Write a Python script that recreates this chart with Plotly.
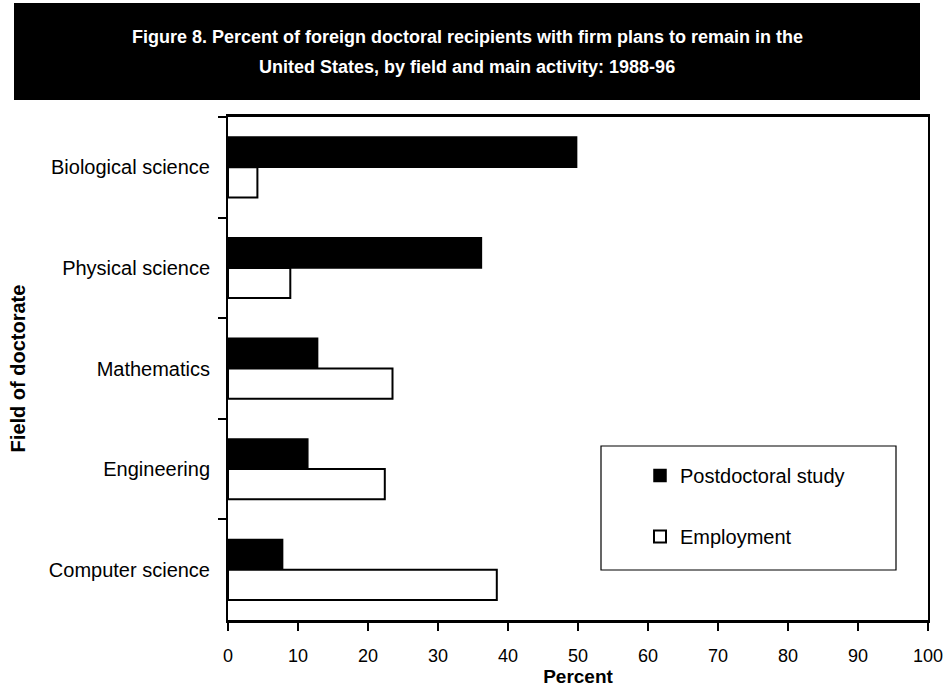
import plotly.graph_objects as go

categories = ["Biological science", "Physical science", "Mathematics", "Engineering", "Computer science"]
postdoc = [49.8, 36.2, 12.8, 11.4, 7.8]
employment = [4.2, 8.9, 23.5, 22.4, 38.4]
x_ticks = [0, 10, 20, 30, 40, 50, 60, 70, 80, 90, 100]
title_lines = [
    "Figure 8. Percent of foreign doctoral recipients with firm plans to remain in the",
    "United States, by field and main activity: 1988-96",
]

FONT = "Liberation Sans, Arial, sans-serif"

fig = go.Figure()
fig.add_trace(go.Bar(
    y=categories, x=postdoc, orientation="h", name="Postdoctoral study",
    marker=dict(color="black", line=dict(color="black", width=1.5)),
    legendgroup="a",
))
fig.add_trace(go.Bar(
    y=categories, x=employment, orientation="h", name="Employment",
    marker=dict(color="white", line=dict(color="black", width=2)),
    legendgroup="b",
))

L, R, T, B = 228, 19, 117, 71
W, H = 947, 691
pw, ph = W - L - R, H - T - B

def px_x(p):
    return (p - L) / pw

def px_y(p):
    return (H - B - p) / ph

annotations = []
for line, yy in zip(title_lines, [37, 67]):
    annotations.append(dict(
        xref="paper", yref="paper", x=px_x(467), y=px_y(yy),
        xanchor="center", yanchor="middle", showarrow=False,
        text="<b>" + line + "</b>",
        font=dict(family=FONT, size=18, color="white"),
    ))

fig.update_layout(
    width=W, height=H,
    margin=dict(l=L, r=R, t=T, b=B, autoexpand=False),
    plot_bgcolor="white", paper_bgcolor="white",
    barmode="group", bargap=0.4, bargroupgap=0.0,
    font=dict(family=FONT, size=18, color="black"),
    showlegend=True,
    legend=dict(
        x=px_x(640), y=px_y(456), xanchor="left", yanchor="top",
        bgcolor="rgba(0,0,0,0)", borderwidth=0,
        font=dict(family=FONT, size=20, color="black"),
        tracegroupgap=32, itemwidth=30,
    ),
    xaxis=dict(
        range=[0, 100], tickvals=x_ticks, ticktext=[str(v) for v in x_ticks],
        ticks="outside", ticklen=8, tickwidth=1.5, tickcolor="black",
        showline=True, linecolor="black", linewidth=3, mirror=True,
        showgrid=False, zeroline=False, automargin=False,
        tickfont=dict(family=FONT, size=18),
        ticklabelstandoff=9,
        title=dict(text="<b>Percent</b>", font=dict(family=FONT, size=19), standoff=3),
    ),
    yaxis=dict(
        autorange="reversed", type="category",
        ticks="outside", tickson="boundaries", ticklen=8, tickwidth=1.5, tickcolor="black",
        showline=True, linecolor="black", linewidth=2, mirror=True,
        showgrid=False, zeroline=False, automargin=False,
        tickfont=dict(family=FONT, size=20),
        ticklabelstandoff=12,
        title=dict(text="<b>Field of doctorate</b>", font=dict(family=FONT, size=20), standoff=18),
    ),
    shapes=[
        dict(type="rect", xref="paper", yref="paper",
             x0=px_x(14), x1=px_x(920), y0=px_y(100), y1=px_y(3),
             fillcolor="black", line=dict(color="black", width=0), layer="below"),
        dict(type="rect", xref="paper", yref="paper",
             x0=px_x(601), x1=px_x(896), y0=px_y(570), y1=px_y(446),
             fillcolor="white", line=dict(color="black", width=1.2), layer="above"),
    ],
    annotations=annotations,
)

fig.write_html("out.html", config={"displayModeBar": False},
               post_script="document.body.style.margin='0px';")
